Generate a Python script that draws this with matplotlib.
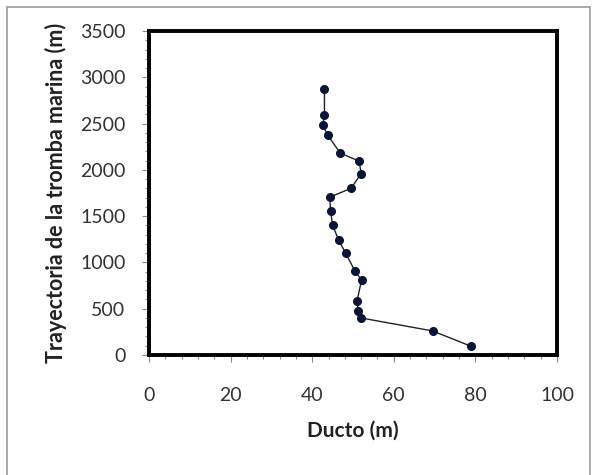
import matplotlib
matplotlib.use('Agg')
import matplotlib.pyplot as plt
from matplotlib.ticker import MultipleLocator
from matplotlib.patches import Rectangle

# datos
ducto = [43.0, 43.0, 42.6, 43.8, 46.9, 51.5, 52.0, 49.5, 44.3, 44.5,
         45.0, 46.5, 48.2, 50.5, 52.1, 51.0, 51.3, 52.0, 69.5, 78.9]
trayectoria = [2875, 2590, 2485, 2375, 2180, 2095, 1960, 1800, 1705, 1560,
               1400, 1240, 1100, 905, 810, 585, 470, 400, 260, 95]

plt.rcParams['font.family'] = ['Lato', 'DejaVu Sans']

fig = plt.figure(figsize=(5.92, 4.75), dpi=100)
ax = fig.add_axes([149/592, 120/475, 408/592, 324/475])

ax.plot(ducto, trayectoria, color='#222222', linewidth=1.0,
        marker='o', markersize=5.5, markerfacecolor='#0b1533',
        markeredgecolor='#0b1533')

ax.set_xlim(0, 100)
ax.set_ylim(0, 3500)
ax.xaxis.set_major_locator(MultipleLocator(20))
ax.xaxis.set_minor_locator(MultipleLocator(4))
ax.yaxis.set_major_locator(MultipleLocator(500))
ax.yaxis.set_minor_locator(MultipleLocator(100))

for s in ax.spines.values():
    s.set_linewidth(2.8)
    s.set_color('black')

ax.tick_params(which='both', direction='out', color='#888888', width=0.8,
               labelsize=14, labelcolor='#333333')
ax.tick_params(which='major', length=5)
ax.tick_params(which='minor', length=3)
ax.tick_params(axis='x', pad=18)
ax.tick_params(axis='y', pad=12)

ax.set_xlabel('Ducto (m)', fontsize=15, fontweight='bold', labelpad=12,
              color='#222222')
ax.set_ylabel('Trayectoria de la tromba marina (m)', fontsize=15.5,
              fontweight='bold', labelpad=9, color='#222222')

# borde exterior del grafico
fig.patches.append(Rectangle((7/592, -10/475), 583/592, 478/475,
                             transform=fig.transFigure, fill=False,
                             edgecolor='#999999', linewidth=1.2))

fig.savefig('out.png', dpi=100)
